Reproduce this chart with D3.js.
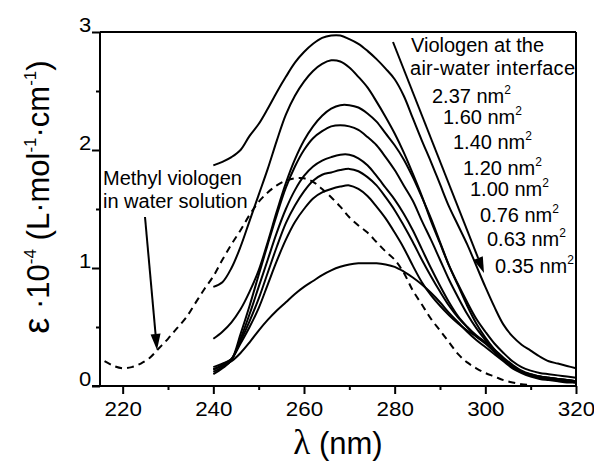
<!DOCTYPE html>
<html><head><meta charset="utf-8">
<script src="https://cdn.jsdelivr.net/npm/d3@7"></script>
<style>
html,body{margin:0;padding:0;background:#fff;}
text{font-family:"Liberation Sans",Arial,sans-serif;fill:#000;}
</style></head>
<body><svg id="c" width="594" height="462"></svg>
<script>
// ---- data ----
const lambdaGrid = d3.range(240, 321, 2); // 240..320 nm, step 2
const seriesNames = ["2.37 nm","1.60 nm","1.40 nm","1.20 nm","1.00 nm","0.76 nm","0.63 nm","0.35 nm"];
const v237 = [1.87,1.90,1.94,2.00,2.12,2.22,2.35,2.49,2.62,2.74,2.83,2.90,2.95,2.97,2.97,2.94,2.90,2.84,2.77,2.69,2.60,2.46,2.27,2.08,1.90,1.71,1.52,1.36,1.20,1.02,0.84,0.67,0.52,0.42,0.35,0.30,0.25,0.21,0.19,0.17,0.15];
const v160 = [0.84,0.88,1.00,1.18,1.40,1.62,1.84,2.08,2.30,2.46,2.58,2.67,2.73,2.76,2.75,2.70,2.62,2.53,2.41,2.28,2.14,1.98,1.80,1.61,1.40,1.21,1.02,0.86,0.71,0.57,0.46,0.36,0.28,0.21,0.16,0.13,0.11,0.10,0.09,0.08,0.07];
const v140 = [0.40,0.46,0.54,0.65,0.80,0.98,1.22,1.48,1.72,1.92,2.08,2.20,2.29,2.35,2.38,2.38,2.36,2.31,2.24,2.14,2.04,1.92,1.77,1.60,1.42,1.22,1.02,0.85,0.68,0.53,0.41,0.31,0.23,0.17,0.12,0.09,0.08,0.07,0.06,0.05,0.04];
const v120 = [0.10,0.15,0.22,0.44,0.68,0.94,1.20,1.45,1.68,1.86,2.00,2.10,2.16,2.20,2.21,2.20,2.17,2.11,2.04,1.94,1.83,1.70,1.57,1.40,1.24,1.07,0.90,0.75,0.61,0.49,0.39,0.30,0.22,0.16,0.12,0.09,0.07,0.06,0.05,0.04,0.03];
const v100 = [0.12,0.16,0.22,0.40,0.61,0.84,1.07,1.30,1.50,1.66,1.78,1.86,1.91,1.94,1.96,1.96,1.93,1.87,1.78,1.68,1.58,1.46,1.32,1.16,1.00,0.85,0.71,0.59,0.50,0.42,0.36,0.29,0.22,0.16,0.12,0.09,0.07,0.06,0.05,0.04,0.03];
const v076 = [0.14,0.18,0.23,0.38,0.55,0.74,0.96,1.18,1.38,1.53,1.65,1.74,1.79,1.81,1.83,1.84,1.82,1.77,1.70,1.60,1.49,1.36,1.22,1.07,0.93,0.80,0.68,0.58,0.50,0.43,0.37,0.30,0.22,0.16,0.12,0.10,0.08,0.07,0.06,0.05,0.04];
const v063 = [0.16,0.19,0.23,0.36,0.50,0.66,0.86,1.06,1.24,1.39,1.50,1.59,1.64,1.67,1.69,1.70,1.67,1.61,1.52,1.42,1.30,1.17,1.02,0.88,0.77,0.68,0.60,0.53,0.47,0.42,0.37,0.31,0.24,0.18,0.13,0.10,0.08,0.07,0.06,0.05,0.04];
const v035 = [0.14,0.17,0.21,0.28,0.37,0.47,0.56,0.64,0.71,0.78,0.84,0.89,0.94,0.98,1.01,1.03,1.04,1.04,1.04,1.03,1.01,0.97,0.92,0.86,0.79,0.71,0.62,0.54,0.46,0.39,0.33,0.27,0.21,0.15,0.11,0.08,0.06,0.05,0.04,0.03,0.03];
// methyl viologen in water solution (dashed)
const mvLambda = [216,218,220,222,224,226,228,230,232,234,236,238,240,242,244,246,248,250,252,254,256,258,260,262,264,266,268,270,272,274,276,278,280,282,284,286,288,290,292,294,296,298,300,302,304,306,308,310];
const mvValue  = [0.21,0.17,0.15,0.16,0.19,0.24,0.32,0.40,0.49,0.58,0.70,0.82,0.93,1.07,1.20,1.32,1.45,1.56,1.64,1.70,1.74,1.76,1.76,1.73,1.67,1.60,1.52,1.43,1.36,1.30,1.22,1.14,1.07,0.96,0.81,0.69,0.57,0.47,0.37,0.27,0.20,0.15,0.11,0.08,0.05,0.03,0.015,0.01];
const xTicks = [220,240,260,280,300,320];
const yTicks = [0,1,2,3];

// ---- chart ----
const svg = d3.select("#c");
const L=100, R=576, T=32, B=386;
const x = d3.scaleLinear().domain([215,320]).range([L,R]);
const y = d3.scaleLinear().domain([0,3]).range([B,T]);

const solid = [v237,v160,v140,v120,v100,v076,v063,v035];
const line = d3.line().x(d=>x(d[0])).y(d=>y(d[1])).curve(d3.curveCatmullRom.alpha(0.5));

solid.forEach(vals=>{
  svg.append("path").attr("d", line(lambdaGrid.map((l,i)=>[l,vals[i]])))
    .attr("fill","none").attr("stroke","#000").attr("stroke-width",2).attr("stroke-linejoin","round");
});
svg.append("path").attr("d", line(mvLambda.map((l,i)=>[l,mvValue[i]])))
  .attr("fill","none").attr("stroke","#000").attr("stroke-width",2).attr("stroke-dasharray","7,5");

// frame
svg.append("line").attr("x1",L).attr("x2",R).attr("y1",T).attr("y2",T).attr("stroke","#000").attr("stroke-width",2);
svg.append("line").attr("x1",R).attr("x2",R).attr("y1",T).attr("y2",B).attr("stroke","#000").attr("stroke-width",2);

// axes
const xAxis = d3.axisBottom(x).tickValues(xTicks).tickSize(8).tickFormat(d3.format("d")).tickSizeOuter(0);
const gx = svg.append("g").attr("transform",`translate(0,${B})`).call(xAxis);
gx.select(".domain").attr("stroke-width",2).attr("d",`M${L-8},0H${R}`);
gx.selectAll(".tick line").attr("stroke-width",2);
gx.selectAll(".tick text").attr("font-size",20).attr("dy",null).attr("y",30)
  .attr("transform","scale(1.12,1)").attr("font-family","Liberation Sans, Arial");
const xMinor = d3.axisBottom(x).tickValues([230,250,270,290,310]).tickSize(4).tickFormat("").tickSizeOuter(0);
const gxm = svg.append("g").attr("transform",`translate(0,${B})`).call(xMinor);
gxm.select(".domain").remove(); gxm.selectAll(".tick line").attr("stroke-width",2);

const yAxis = d3.axisLeft(y).tickValues(yTicks).tickSize(8).tickFormat(d3.format("d")).tickSizeOuter(0);
const gy = svg.append("g").attr("transform",`translate(${L},0)`).call(yAxis);
gy.select(".domain").attr("stroke-width",2).attr("d",`M0,${B}V${T}`);
gy.selectAll(".tick line").attr("stroke-width",2);
gy.selectAll(".tick text").attr("font-size",20).attr("dy",null).attr("x",-8).attr("y",-1)
  .attr("transform","scale(1.1,1)").attr("font-family","Liberation Sans, Arial");
const yMinor = d3.axisLeft(y).tickValues([0.5,1.5,2.5]).tickSize(4).tickFormat("").tickSizeOuter(0);
const gym = svg.append("g").attr("transform",`translate(${L},0)`).call(yMinor);
gym.select(".domain").remove(); gym.selectAll(".tick line").attr("stroke-width",2);

// axis titles
const xt = svg.append("text").attr("x",(L+R)/2).attr("y",454).attr("text-anchor","middle").attr("font-size",31);
xt.append("tspan").text("λ").attr("font-family","Liberation Serif, serif").attr("font-size",35);
xt.append("tspan").text(" (nm)");

const yt = svg.append("text").attr("transform","translate(49,197) rotate(-90)").attr("text-anchor","middle").attr("font-size",31);
yt.append("tspan").text("ε").attr("font-size",36);
yt.append("tspan").text(" ·10");
yt.append("tspan").text("-4").attr("font-size",17).attr("dy",-13);
yt.append("tspan").text(" (L·mol").attr("dy",13);
yt.append("tspan").text("-1").attr("font-size",17).attr("dy",-13);
yt.append("tspan").text("·cm").attr("dy",13);
yt.append("tspan").text("-1").attr("font-size",17).attr("dy",-13);
yt.append("tspan").text(")").attr("dy",13);

// annotations
const fs = 20;
svg.append("text").attr("x",103).attr("y",185).attr("font-size",fs).text("Methyl viologen");
svg.append("text").attr("x",103).attr("y",208).attr("font-size",fs).text("in water solution");
svg.append("text").attr("x",411).attr("y",52).attr("font-size",fs).text("Viologen at the");
svg.append("text").attr("x",410).attr("y",75).attr("font-size",fs).attr("textLength",165).text("air-water interface");

const labelPos = [[432,103],[443,124],[453,149],[463,175],[470,196],[480,222],[487,246],[495,273]];
seriesNames.forEach((n,i)=>{
  const t = svg.append("text").attr("x",labelPos[i][0]).attr("y",labelPos[i][1]).attr("font-size",fs);
  t.append("tspan").text(n);
  t.append("tspan").text("2").attr("font-size",12).attr("dy",-9);
});

// arrows
function arrow(x1,y1,x2,y2){
  const ang = Math.atan2(y2-y1,x2-x1), hl=16, hw=5;
  const bx = x2-hl*Math.cos(ang), by = y2-hl*Math.sin(ang);
  svg.append("line").attr("x1",x1).attr("y1",y1).attr("x2",bx).attr("y2",by).attr("stroke","#000").attr("stroke-width",2);
  const px=-Math.sin(ang)*hw, py=Math.cos(ang)*hw;
  svg.append("path").attr("d",`M${x2},${y2}L${bx+px},${by+py}L${bx-px},${by-py}Z`).attr("fill","#000");
}
arrow(145,217,157,350);
arrow(393,42,484,273);
</script></body></html>
